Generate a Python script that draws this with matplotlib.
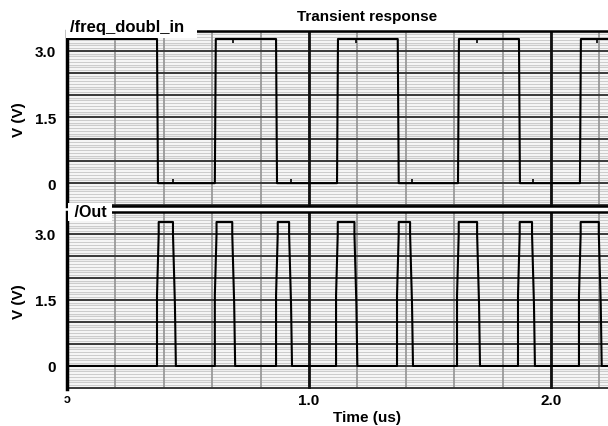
import numpy as np
import matplotlib.pyplot as plt

plt.rcParams['font.family'] = ['Liberation Sans', 'DejaVu Sans']

# input square wave: edge times (us), starts high
in_edges = [0.372, 0.611, 0.864, 1.116, 1.367, 1.616, 1.868, 2.120]
v_high = 3.27
# little blips seen on the flat parts
blip_low = [0.44, 0.926, 1.426, 1.926]
blip_high = [0.686, 1.194, 1.694, 2.19]

# output pulses: (rise, fall) in us
out_rise = [0.372, 0.611, 0.864, 1.112, 1.364, 1.612, 1.864, 2.116]
out_fall = [0.450, 0.695, 0.930, 1.200, 1.430, 1.707, 1.934, 2.210]

t_end = 2.30
x_max = 2.236

def square(edges, high, t_end):
    t = [0.0]
    v = [high]
    lvl = high
    for e in edges:
        t += [e, e + 0.004]
        v += [lvl, high - lvl]
        lvl = high - lvl
    t.append(t_end)
    v.append(lvl)
    return t, v

def pulses(rise, fall, high, t_end):
    t = [0.0]
    v = [0.0]
    for r, f in zip(rise, fall):
        t += [r, r, r + 0.007, r + 0.007, f - 0.012, f - 0.012, f - 0.004, f]
        v += [0.0, 1.6, 3.0, high, high, 3.0, 1.4, 0.0]
    t.append(t_end)
    v.append(0.0)
    return t, v

fig = plt.figure(figsize=(6.08, 4.27), dpi=100)
ax_w = (608 - 67) / 608
ax1 = fig.add_axes([67 / 608, 0.515, ax_w, 0.410])
ax2 = fig.add_axes([67 / 608, 0.087, ax_w, 0.4145])

def style(ax, ylim):
    ax.set_xlim(0, x_max)
    ax.set_ylim(*ylim)
    for yv in np.arange(-0.5, 3.51, 0.0625):
        ax.axhline(yv, color='#cccccc', lw=1.0, zorder=0.5)
    for xv in np.arange(0.2, x_max, 0.2):
        ax.axvline(xv, color='#9a9a9a', lw=1.3, zorder=0.8)
    for yv in np.arange(-0.5, 3.51, 0.5):
        ax.axhline(yv, color='#3a3a3a', lw=1.4, zorder=1)
    for xv in [1.0, 2.0]:
        ax.axvline(xv, color='#111111', lw=2.0, zorder=1.2)
    ax.set_yticks([0, 1.5, 3.0])
    ax.set_yticklabels(['0', '1.5', '3.0'], fontweight='bold', fontsize=11)
    ax.tick_params(which='both', length=0, pad=8)
    ax.spines['left'].set_linewidth(2.5)
    for s in ['top', 'bottom']:
        ax.spines[s].set_linewidth(1.8)
    ax.spines['right'].set_visible(False)
    ax.set_ylabel('V (V)', fontweight='bold', fontsize=11, labelpad=6)

style(ax1, (-0.52, 3.45))
style(ax2, (-0.52, 3.50))
ax2.spines['bottom'].set_visible(False)

t, v = square(in_edges, v_high, t_end)
ax1.plot(t, v, color='black', lw=1.5, zorder=3)
ax1.plot(blip_low, [0.05] * len(blip_low), '|', color='black', ms=3, mew=1.2, zorder=3)
ax1.plot(blip_high, [v_high - 0.05] * len(blip_high), '|', color='black', ms=3, mew=1.2, zorder=3)
ax1.tick_params(axis='x', labelbottom=False)

t, v = pulses(out_rise, out_fall, v_high, t_end)
ax2.plot(t, v, color='black', lw=1.5, zorder=3)
ax2.set_xticks([0, 1.0, 2.0])
ax2.set_xticklabels(['', '1.0', '2.0'], fontweight='bold', fontsize=11)
ax2.tick_params(axis='x', pad=3)
ax2.text(0, -0.62, 'ɔ', fontsize=9, ha='center', va='top', fontweight='bold')
ax2.set_xlabel('Time (us)', fontweight='bold', fontsize=11, labelpad=2)
ax2.xaxis.set_label_coords((367 - 67) / (608 - 67), -0.12)

ax1.text(0.005, 1.028, '/freq_doubl_in  ', transform=ax1.transAxes, fontsize=12,
         fontweight='bold', va='center', ha='left', zorder=5,
         bbox=dict(facecolor='white', edgecolor='none', pad=3))
ax2.text(0.005, 1.0, ' /Out ', transform=ax2.transAxes, fontsize=11.5,
         fontweight='bold', va='center', ha='left', zorder=5,
         bbox=dict(facecolor='white', edgecolor='none', pad=1))
fig.text(367 / 608, 1 - 17 / 427, 'Transient response', fontsize=11,
         fontweight='bold', ha='center', va='center')

fig.savefig('out.png', dpi=100)
